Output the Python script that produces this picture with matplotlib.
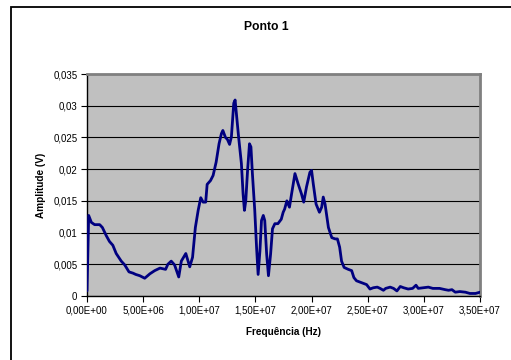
import matplotlib
matplotlib.use("Agg")
import matplotlib.pyplot as plt
from matplotlib.patches import Rectangle
from matplotlib.ticker import FuncFormatter, MultipleLocator

plt.rcParams['font.family'] = ['Liberation Sans', 'DejaVu Sans']

# Frequency in units of 1e6 Hz, amplitude in V
freq_mhz = [0.0, 0.15, 0.39, 0.68, 1.13, 1.37, 1.72, 2.0, 2.3, 2.6, 3.05, 3.36, 3.74, 4.1, 4.34,
            4.7, 5.14, 5.6, 6.03, 6.5, 7.0, 7.2, 7.5, 7.8, 8.17, 8.4, 8.8, 9.15, 9.4, 9.65,
            9.9, 10.13, 10.34, 10.57, 10.7, 11.0, 11.23, 11.5, 11.76, 11.97, 12.1, 12.33, 12.5,
            12.7, 12.86, 13.07, 13.19, 13.3, 13.5, 13.75, 13.9, 14.02, 14.14, 14.3, 14.47, 14.6,
            14.73, 14.94, 15.1, 15.24, 15.4, 15.54, 15.7, 15.83, 16.0, 16.16, 16.35, 16.52, 16.73,
            17.0, 17.3, 17.47, 17.6, 17.8, 18.03, 18.22, 18.52, 18.8, 19.1, 19.3, 19.55, 19.85,
            20.0, 20.15, 20.4, 20.7, 20.9, 21.04, 21.2, 21.5, 21.8, 22.1, 22.3, 22.5, 22.67,
            22.9, 23.27, 23.57, 23.77, 24.0, 24.46, 24.9, 25.2, 25.5, 25.85, 26.1, 26.4, 26.6,
            27.0, 27.3, 27.6, 27.9, 28.2, 28.6, 29.0, 29.3, 29.5, 29.95, 30.4, 30.8, 31.4, 31.9,
            32.2, 32.5, 32.8, 33.2, 33.7, 34.1, 34.6, 35.0]
amplitude = [0.0008, 0.0127, 0.0116, 0.01125, 0.01125, 0.0108, 0.0095, 0.0086, 0.008, 0.0067,
             0.0055, 0.0049, 0.0038, 0.0036, 0.0034, 0.0032, 0.0028, 0.0035, 0.004, 0.0044,
             0.0042, 0.005, 0.0055, 0.0049, 0.003, 0.0055, 0.0067, 0.0046, 0.0061, 0.0108,
             0.0135, 0.0155, 0.0148, 0.0148, 0.0176, 0.0182, 0.019, 0.0211, 0.024, 0.0256,
             0.0261, 0.025, 0.0247, 0.0239, 0.0251, 0.0304, 0.0309, 0.0288, 0.0251, 0.0209,
             0.0161, 0.0135, 0.015, 0.0198, 0.024, 0.0235, 0.0193, 0.0135, 0.0077, 0.0034,
             0.0071, 0.0119, 0.0127, 0.0119, 0.0066, 0.0032, 0.0066, 0.0106, 0.0114, 0.0114,
             0.0121, 0.0132, 0.0137, 0.015, 0.014, 0.0161, 0.0193, 0.0177, 0.0161, 0.0148,
             0.0172, 0.0195, 0.0198, 0.0177, 0.0145, 0.0132, 0.014, 0.0156, 0.0145, 0.0108,
             0.0092, 0.009, 0.009, 0.0077, 0.0055, 0.0045, 0.0042, 0.004, 0.0029, 0.0024,
             0.0021, 0.0018, 0.0011, 0.0013, 0.0014, 0.0012, 0.0009, 0.0012, 0.0014, 0.0012,
             0.0008, 0.0015, 0.0013, 0.0011, 0.0012, 0.0017, 0.0012, 0.0013, 0.0014, 0.0012,
             0.0012, 0.0010, 0.0009, 0.0010, 0.0006, 0.0007, 0.0006, 0.0004, 0.0004, 0.0006]
freq = [f * 1e6 for f in freq_mhz]

title = "Ponto 1"
xlabel = "Frequência (Hz)"
ylabel = "Amplitude (V)"

fig = plt.figure(figsize=(5.11, 3.6), dpi=100)
fig.patch.set_facecolor('white')
fig.patches.append(Rectangle((11/511, -0.2), 2.0, 1.2 - 7/360,
                             transform=fig.transFigure, fill=False,
                             edgecolor='black', linewidth=1.3, zorder=0))

ax = fig.add_axes([87/511, 1 - 296/360, (480 - 87)/511, (296 - 74)/360])
ax.set_facecolor('#C0C0C0')
ax.plot(freq, amplitude, color='#000080', linewidth=2.0, solid_capstyle='round',
        solid_joinstyle='round', zorder=3)

ax.set_xlim(0, 3.5e7)
ax.set_ylim(0, 0.035)
ax.xaxis.set_major_locator(MultipleLocator(5e6))
ax.yaxis.set_major_locator(MultipleLocator(0.005))


def xfmt(v, pos):
    s = "%.2E" % v
    return s.replace('.', ',')


def yfmt(v, pos):
    if abs(v) < 1e-12:
        return "0"
    s = ("%.3f" % v).rstrip('0')
    return s.replace('.', ',')


ax.xaxis.set_major_formatter(FuncFormatter(xfmt))
ax.yaxis.set_major_formatter(FuncFormatter(yfmt))
ax.grid(axis='y', color='black', linewidth=0.8, zorder=1)
ax.set_axisbelow(True)

for side in ['top', 'right']:
    ax.spines[side].set_color('#808080')
    ax.spines[side].set_linewidth(2)
for side in ['left', 'bottom']:
    ax.spines[side].set_color('black')
    ax.spines[side].set_linewidth(1)

ax.tick_params(axis='both', direction='out', length=4, width=0.8, labelsize=7,
               colors='black', pad=3)

ax.set_xlabel(xlabel, fontsize=7.2, fontweight='bold', labelpad=8)
ax.set_ylabel(ylabel, fontsize=7.2, fontweight='bold', labelpad=5)
fig.text(266/511, 1 - 27/360, title, ha='center', va='center', fontsize=8.7, fontweight='bold')

fig.savefig('out.png', dpi=100)
